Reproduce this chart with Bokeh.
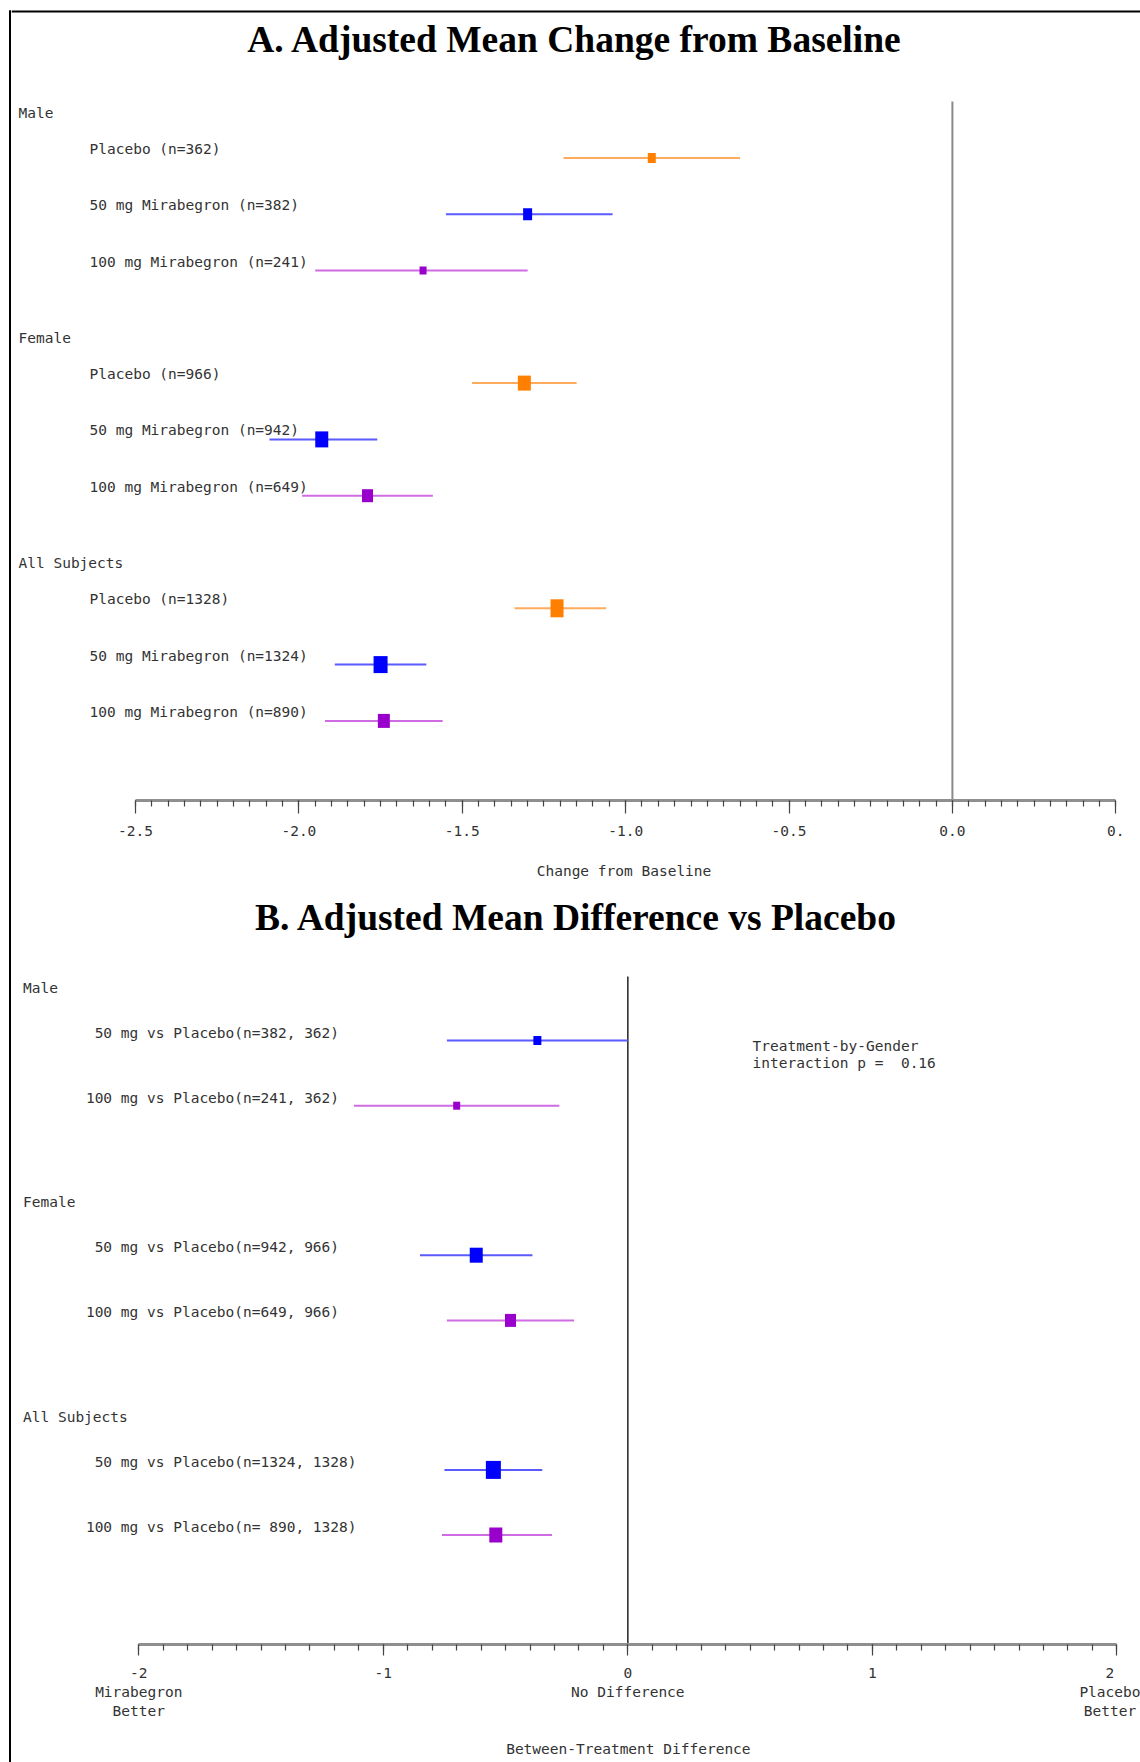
import numpy as np
from bokeh.plotting import figure
from bokeh.layouts import column, row
from bokeh.models import Range1d, FixedTicker, CustomJSTickFormatter
from bokeh.core.properties import value
from bokeh.embed import file_html
from bokeh.resources import INLINE

# ---------------- data ----------------
GROUPS = ["Male", "Female", "All Subjects"]

A_TITLE = "A. Adjusted Mean Change from Baseline"
A_LABELS = [
    ["Placebo (n=362)", "50 mg Mirabegron (n=382)", "100 mg Mirabegron (n=241)"],
    ["Placebo (n=966)", "50 mg Mirabegron (n=942)", "100 mg Mirabegron (n=649)"],
    ["Placebo (n=1328)", "50 mg Mirabegron (n=1324)", "100 mg Mirabegron (n=890)"],
]
A_MEAN = [[-0.92, -1.30, -1.62], [-1.31, -1.93, -1.79], [-1.21, -1.75, -1.74]]
A_LOW = [[-1.19, -1.55, -1.95], [-1.47, -2.09, -1.99], [-1.34, -1.89, -1.92]]
A_HIGH = [[-0.65, -1.04, -1.30], [-1.15, -1.76, -1.59], [-1.06, -1.61, -1.56]]
A_TICKS = [-2.5, -2.0, -1.5, -1.0, -0.5, 0.0, 0.5]
A_TICK_LABELS = ["-2.5", "-2.0", "-1.5", "-1.0", "-0.5", "0.0", "0."]
A_XLABEL = "Change from Baseline"

B_TITLE = "B. Adjusted Mean Difference vs Placebo"
B_LABELS = [
    ["\u00a050 mg vs Placebo(n=382, 362)", "100 mg vs Placebo(n=241, 362)"],
    ["\u00a050 mg vs Placebo(n=942, 966)", "100 mg vs Placebo(n=649, 966)"],
    ["\u00a050 mg vs Placebo(n=1324, 1328)", "100 mg vs Placebo(n=\u00a0890, 1328)"],
]
B_MEAN = [[-0.37, -0.70], [-0.62, -0.48], [-0.55, -0.54]]
B_LOW = [[-0.74, -1.12], [-0.85, -0.74], [-0.75, -0.76]]
B_HIGH = [[0.00, -0.28], [-0.39, -0.22], [-0.35, -0.31]]
B_TICKS = [-2, -1, 0, 1, 2]
B_TICK_LABELS = ["-2\nMirabegron\nBetter", "-1", "0\nNo Difference", "1", "2\nPlacebo\nBetter"]
B_XLABEL = "Between-Treatment Difference"
INTERACTION_TEXT = ["Treatment-by-Gender", "interaction p =\u00a0 0.16"]

# ---------------- styles ----------------
A_MARK_COLORS = ["#FF7F00", "#0000FF", "#9900CC"]
A_LINE_COLORS = ["#FFAA5C", "#5A5AFF", "#CF6BE3"]
B_MARK_COLORS = ["#0000FF", "#9900CC"]
B_LINE_COLORS = ["#5A5AFF", "#CF6BE3"]
A_MARK_W = [[8, 9, 7], [13, 13, 11], [13, 14, 12]]
A_MARK_H = [[10, 12, 8], [15, 16, 13], [18, 17, 14]]
B_MARK_W = [[8, 7], [13, 11], [15, 13]]
B_MARK_H = [[9, 8], [15, 13], [18, 15]]

FONT = "DejaVu Sans Mono"
FS = "14.5px"
CHAR_W = 0.602 * 14.5      # advance width of one monospace character
TXT = "#333333"
TITLE_FONT = "Liberation Serif"
TITLE_FS = "37.5px"

W, H = 1140, 1762
EDGE = 11          # width of the left border strip
SPLIT = 890        # page y where panel B starts

# panel A geometry (page pixels)
A_AXIS_Y = 800
A_X0_PX, A_X1_PX = 135.0, 1115.3
A_ROW0, A_STEP, A_GROUP_ROWS = 157.4, 56.3, 4
A_HDR_DY, A_LBL_DY = -45.0, -9.0
A_HDR_X, A_LBL_X = 18.0, 89.0
A_REF_TOP = 101

# panel B geometry (page pixels)
B_AXIS_Y = 1644
B_X0_PX, B_X1_PX = 138.3, 1116.4
B_ROW0, B_STEP, B_GROUP = 1040.0, 65.2, 214.7
B_HDR_DY, B_LBL_DY = -52.8, -8.0
B_HDR_X, B_LBL_X = 22.5, 85.4
B_REF_TOP = 976


def mapper(x0px, x1px, t0, t1):
    ppu = (x1px - x0px) / (t1 - t0)
    zero = x0px - t0 * ppu
    return lambda px: (px - zero) / ppu, ppu, zero


def tick_formatter(tick_vals, tick_texts):
    return CustomJSTickFormatter(
        args=dict(tvals=list(tick_vals), ttexts=list(tick_texts)),
        code="""
        const i = tvals.findIndex(t => Math.abs(t - tick) < 1e-6);
        return i >= 0 ? ttexts[i] : "";
        """,
    )


def centered_label(text, zero_px, ppu, ticks):
    # axis titles are centred on the frame by Bokeh; the reference centres them
    # on the axis bounds, so shift with leading no-break spaces
    target = zero_px + ppu * (ticks[0] + ticks[-1]) / 2
    frame_center = (EDGE + W) / 2
    n = max(0, int(round(2 * (target - frame_center) / CHAR_W)))
    return "\u00a0" * n + text


def style_axis(axis, ticks, minor, labels, tick_len, standoff, xlabel, label_standoff):
    axis.bounds = (ticks[0], ticks[-1])
    axis.ticker = FixedTicker(ticks=ticks, minor_ticks=minor)
    axis.formatter = tick_formatter(ticks, labels)
    axis.axis_line_color = "#8f8f8f"
    axis.axis_line_width = 3
    axis.major_tick_line_color = "#444444"
    axis.minor_tick_line_color = "#444444"
    axis.major_tick_line_width = 1.2
    axis.minor_tick_line_width = 1.2
    axis.major_tick_in = 0
    axis.minor_tick_in = 0
    axis.major_tick_out = tick_len
    axis.minor_tick_out = 6
    axis.major_label_text_font = FONT
    axis.major_label_text_font_size = FS
    axis.major_label_text_color = TXT
    axis.major_label_standoff = standoff
    axis.axis_label = xlabel
    axis.axis_label_text_font = FONT
    axis.axis_label_text_font_size = FS
    axis.axis_label_text_font_style = "normal"
    axis.axis_label_text_color = TXT
    axis.axis_label_standoff = label_standoff


def base_fig(xr, y_bottom, y_top, height, border_bottom):
    p = figure(width=W - EDGE, height=height, x_range=xr,
               y_range=Range1d(y_bottom, y_top),
               output_backend="svg", toolbar_location=None,
               min_border_left=0, min_border_right=0, min_border_top=0,
               min_border_bottom=border_bottom, y_axis_location=None)
    p.grid.visible = False
    p.outline_line_color = None
    p.background_fill_color = "white"
    p.border_fill_color = "white"
    return p


def txt(p, x, y, s, **kw):
    p.text(x=[x], y=[y], text=[s], text_font=value(kw.get("font", FONT)),
           text_font_size=kw.get("size", FS), text_color=kw.get("color", TXT),
           text_align=kw.get("align", "left"), text_baseline="middle",
           text_font_style=kw.get("style", "normal"))


# ---------------- panel A ----------------
ax, a_ppu, a_zero = mapper(A_X0_PX, A_X1_PX, A_TICKS[0], A_TICKS[-1])
pA = base_fig(Range1d(ax(EDGE), ax(W)), A_AXIS_Y, 0, SPLIT, SPLIT - A_AXIS_Y)
minorA = [float(v) for v in np.round(np.arange(A_TICKS[0], A_TICKS[-1] + 1e-9, 0.05), 2)]
style_axis(pA.xaxis[0], A_TICKS, minorA, A_TICK_LABELS, 13, 12,
           centered_label(A_XLABEL, a_zero, a_ppu, A_TICKS), 24)

# frame top border
pA.segment(x0=[ax(EDGE)], y0=[11], x1=[ax(W)], y1=[11], line_color="black", line_width=2)
# reference line at 0
pA.segment(x0=[0.0], y0=[A_REF_TOP], x1=[0.0], y1=[A_AXIS_Y], line_color="#8a8a8a", line_width=2)

txt(pA, ax(574.5), 39, A_TITLE, font=TITLE_FONT, size=TITLE_FS, align="center", style="bold", color="black")

for g, grp in enumerate(GROUPS):
    first = A_ROW0 + g * A_GROUP_ROWS * A_STEP
    txt(pA, ax(A_HDR_X), first + A_HDR_DY, grp)
    for k in range(3):
        yrow = first + k * A_STEP
        txt(pA, ax(A_LBL_X), yrow + A_LBL_DY, A_LABELS[g][k])
        pA.segment(x0=[A_LOW[g][k]], y0=[yrow], x1=[A_HIGH[g][k]], y1=[yrow],
                   line_color=A_LINE_COLORS[k], line_width=2)
        pA.rect(x=[A_MEAN[g][k]], y=[yrow], width=A_MARK_W[g][k], height=A_MARK_H[g][k],
                width_units="screen", height_units="screen",
                fill_color=A_MARK_COLORS[k], line_color=None)

# ---------------- panel B ----------------
bx, b_ppu, b_zero = mapper(B_X0_PX, B_X1_PX, B_TICKS[0], B_TICKS[-1])
pB = base_fig(Range1d(bx(EDGE), bx(W)), B_AXIS_Y, SPLIT, H - SPLIT, H - B_AXIS_Y)
minorB = [float(v) for v in np.round(np.arange(B_TICKS[0], B_TICKS[-1] + 1e-9, 0.1), 2)]
style_axis(pB.xaxis[0], B_TICKS, minorB, B_TICK_LABELS, 11, 9,
           centered_label(B_XLABEL, b_zero, b_ppu, B_TICKS), 19)

pB.segment(x0=[0.0], y0=[B_REF_TOP], x1=[0.0], y1=[B_AXIS_Y], line_color="#222222", line_width=1.5)

txt(pB, bx(576), 917, B_TITLE, font=TITLE_FONT, size=TITLE_FS, align="center", style="bold", color="black")

for i, line in enumerate(INTERACTION_TEXT):
    txt(pB, bx(752), 1045.5 + i * 17, line)

for g, grp in enumerate(GROUPS):
    first = B_ROW0 + g * B_GROUP
    txt(pB, bx(B_HDR_X), first + B_HDR_DY, grp)
    for k in range(2):
        yrow = first + k * B_STEP
        txt(pB, bx(B_LBL_X), yrow + B_LBL_DY, B_LABELS[g][k])
        pB.segment(x0=[B_LOW[g][k]], y0=[yrow], x1=[B_HIGH[g][k]], y1=[yrow],
                   line_color=B_LINE_COLORS[k], line_width=2)
        pB.rect(x=[B_MEAN[g][k]], y=[yrow], width=B_MARK_W[g][k], height=B_MARK_H[g][k],
                width_units="screen", height_units="screen",
                fill_color=B_MARK_COLORS[k], line_color=None)

# ---------------- left border strip ----------------
strip = figure(width=EDGE, height=H, x_range=Range1d(0, EDGE), y_range=Range1d(H, 0),
               output_backend="svg", toolbar_location=None,
               min_border_left=0, min_border_right=0, min_border_top=0, min_border_bottom=0,
               x_axis_location=None, y_axis_location=None)
strip.grid.visible = False
strip.outline_line_color = None
strip.segment(x0=[9.5], y0=[10], x1=[9.5], y1=[H], line_color="black", line_width=2)
strip.segment(x0=[8.5], y0=[11], x1=[EDGE], y1=[11], line_color="black", line_width=2)

layout = row(strip, column(pA, pB))
open("out.html", "w").write(file_html(layout, INLINE))
